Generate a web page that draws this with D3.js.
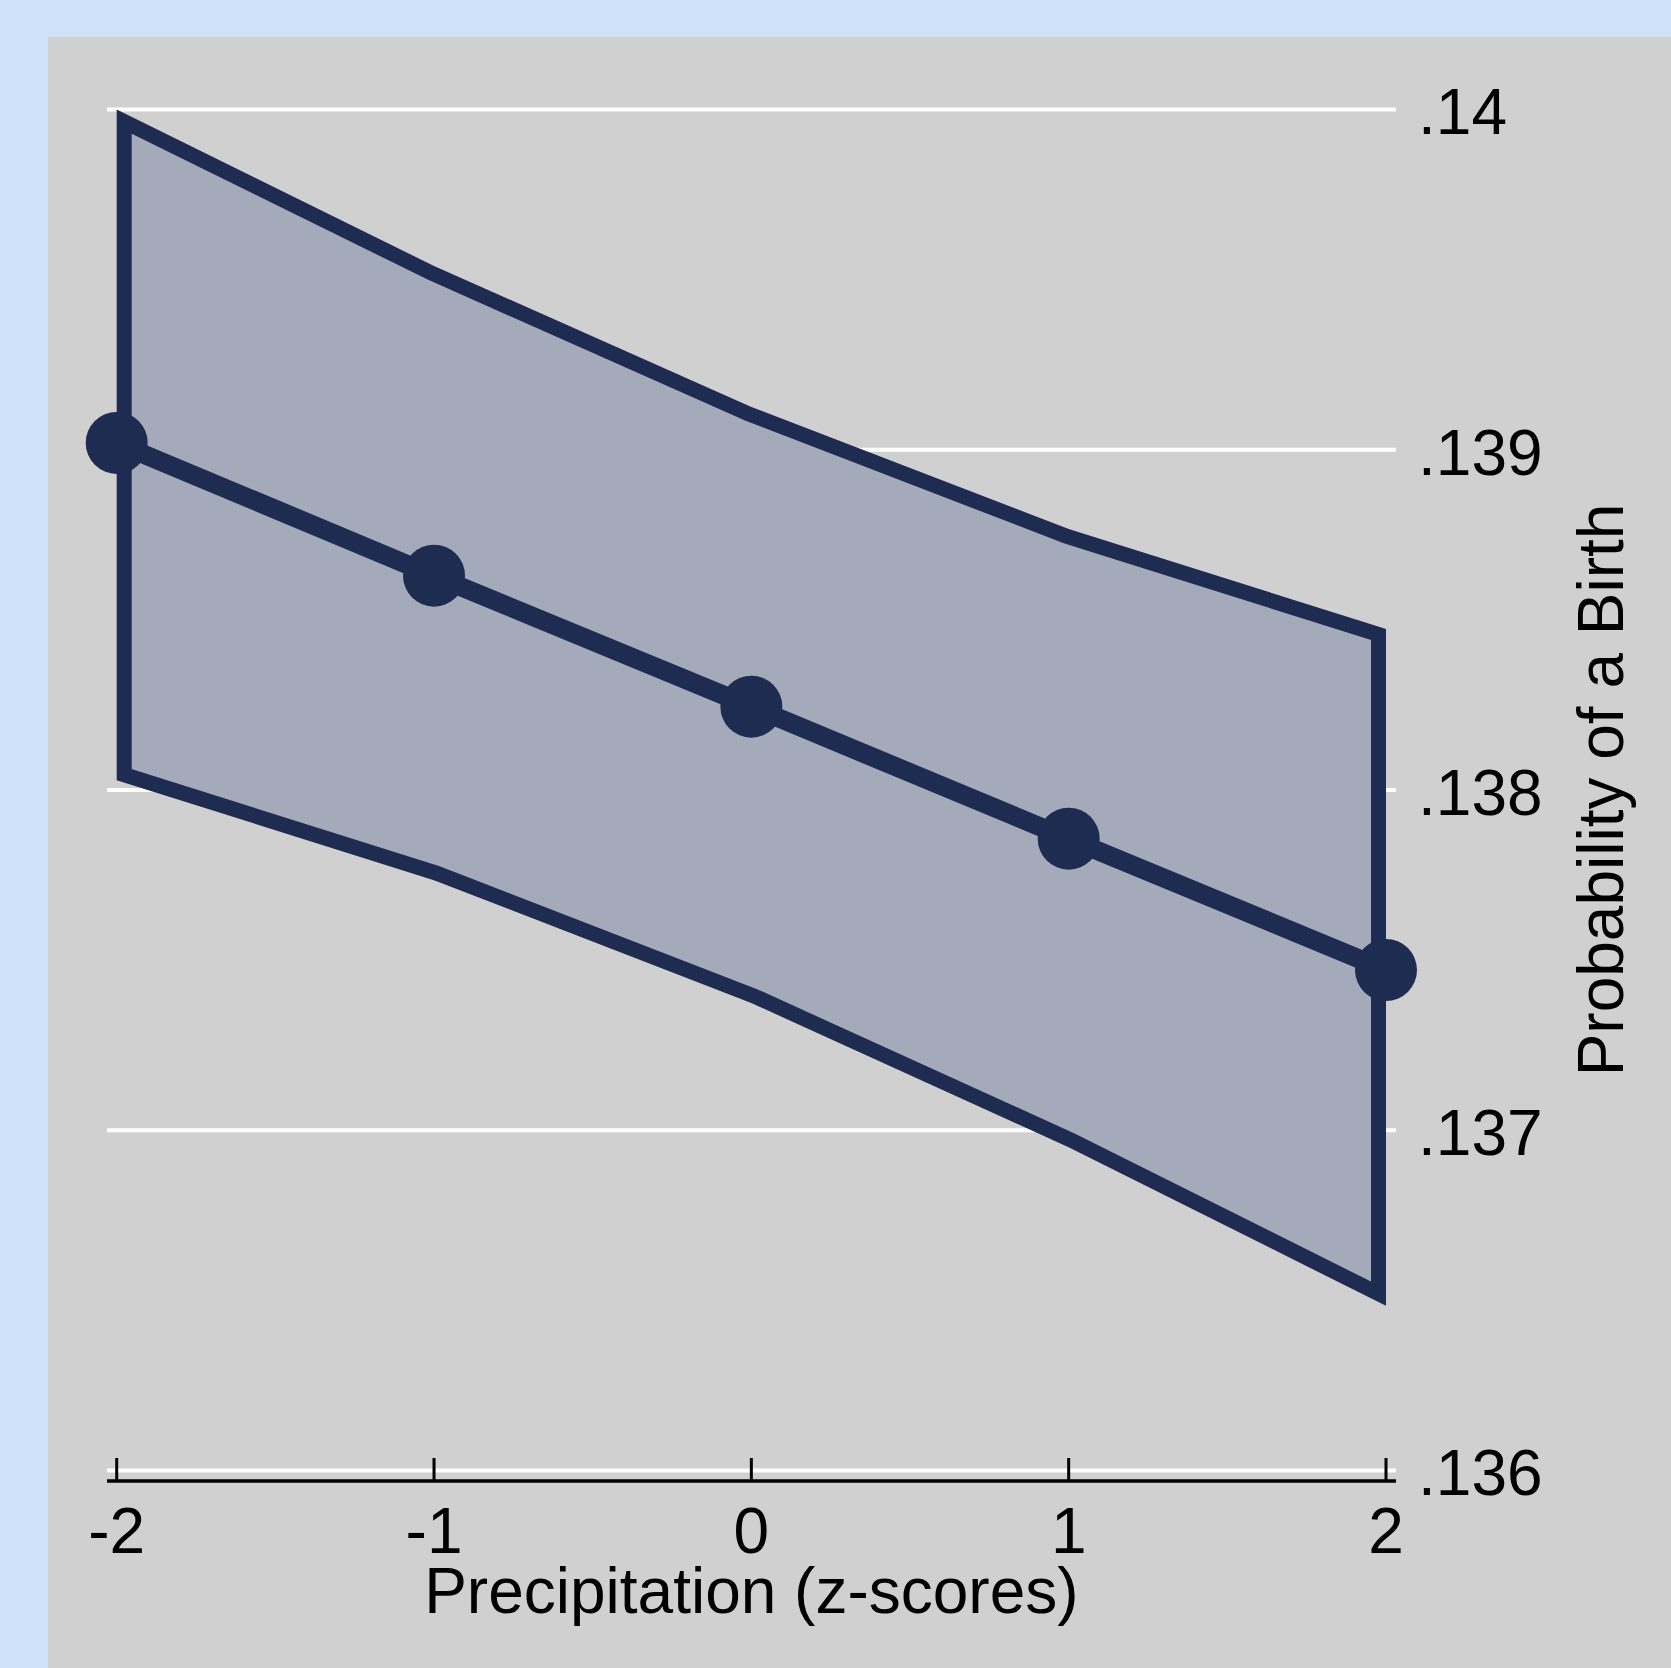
<!DOCTYPE html>
<html>
<head>
<meta charset="utf-8">
<script src="https://cdn.jsdelivr.net/npm/d3@7"></script>
<style>
  body { margin: 0; background: #cfe1f9; }
  svg { display: block; }
  text { font-family: "Liberation Sans", Arial, sans-serif; fill: #000; }
</style>
</head>
<body>
<svg width="1671" height="1668"></svg>
<script>
// values
var precip = [-2, -1, 0, 1, 2];
var prob   = [0.13902, 0.13863, 0.138245, 0.137857, 0.137471];
var upper  = [0.14000, 0.13954, 0.139126, 0.138767, 0.138473];
var lower  = [0.138029, 0.137735, 0.137374, 0.13695, 0.136484];

var xTicks = [-2, -1, 0, 1, 2];
var xTickLabels = ["-2", "-1", "0", "1", "2"];
var yTicks = [0.136, 0.137, 0.138, 0.139, 0.14];
var yTickLabels = [".136", ".137", ".138", ".139", ".14"];

var navy = "#1e2c52";

var svg = d3.select("svg"),
    width = +svg.attr("width"),
    height = +svg.attr("height");

// grey plot panel
svg.append("rect")
    .attr("x", 48)
    .attr("y", 37)
    .attr("width", width - 48)
    .attr("height", height - 37)
    .attr("fill", "#d0d0d0");

var x = d3.scaleLinear().domain([-2, 2]).range([116.7, 1386]);
var y = d3.scaleLinear().domain([0.136, 0.14]).range([1470.5, 109.5]);

var gridLeft = 107, gridRight = 1396;

// gridlines
svg.selectAll("line.grid")
    .data(yTicks)
    .enter()
    .append("line")
    .attr("class", "grid")
    .attr("x1", gridLeft)
    .attr("x2", gridRight)
    .attr("y1", d => y(d))
    .attr("y2", d => y(d))
    .attr("stroke", "#ffffff")
    .attr("stroke-width", 4);

var data = precip.map((p, i) => ({ p: p, est: prob[i], hi: upper[i], lo: lower[i] }));

// confidence band, outline drawn on the inside
var area = d3.area()
    .x(d => x(d.p))
    .y0(d => y(d.lo))
    .y1(d => y(d.hi));

svg.append("clipPath")
    .attr("id", "bandClip")
    .append("path")
    .attr("d", area(data));

svg.append("path")
    .attr("d", area(data))
    .attr("fill", "#a5aaba")
    .attr("stroke", navy)
    .attr("stroke-width", 30)
    .attr("stroke-linejoin", "miter")
    .attr("clip-path", "url(#bandClip)");

// x axis line + ticks (ticks point up)
var axisY = 1481;
svg.append("line")
    .attr("x1", gridLeft)
    .attr("x2", gridRight)
    .attr("y1", axisY)
    .attr("y2", axisY)
    .attr("stroke", "#000")
    .attr("stroke-width", 3.5);

svg.selectAll("line.xtick")
    .data(xTicks)
    .enter()
    .append("line")
    .attr("class", "xtick")
    .attr("x1", d => x(d))
    .attr("x2", d => x(d))
    .attr("y1", axisY)
    .attr("y2", axisY - 23)
    .attr("stroke", "#000")
    .attr("stroke-width", 3);

svg.selectAll("text.xlab")
    .data(xTicks)
    .enter()
    .append("text")
    .attr("class", "xlab")
    .attr("x", d => x(d))
    .attr("y", 1553)
    .attr("text-anchor", "middle")
    .style("font-size", "64px")
    .text((d, i) => xTickLabels[i]);

// y labels on the right
svg.selectAll("text.ylab")
    .data(yTicks)
    .enter()
    .append("text")
    .attr("class", "ylab")
    .attr("x", 1418)
    .attr("y", d => y(d))
    .attr("dy", "0.39em")
    .style("font-size", "64px")
    .text((d, i) => yTickLabels[i]);

// axis titles
svg.append("text")
    .attr("x", x(0))
    .attr("y", 1613)
    .attr("text-anchor", "middle")
    .style("font-size", "64px")
    .text("Precipitation (z-scores)");

svg.append("text")
    .attr("transform", "translate(1623," + y(0.138) + ") rotate(-90)")
    .attr("text-anchor", "middle")
    .style("font-size", "64px")
    .text("Probability of a Birth");

// fitted line and markers
var line = d3.line()
    .x(d => x(d.p))
    .y(d => y(d.est));

svg.append("path")
    .attr("d", line(data))
    .attr("fill", "none")
    .attr("stroke", navy)
    .attr("stroke-width", 19);

svg.selectAll("circle")
    .data(data)
    .enter()
    .append("circle")
    .attr("cx", d => x(d.p))
    .attr("cy", d => y(d.est))
    .attr("r", 31)
    .attr("fill", navy);
</script>
</body>
</html>
